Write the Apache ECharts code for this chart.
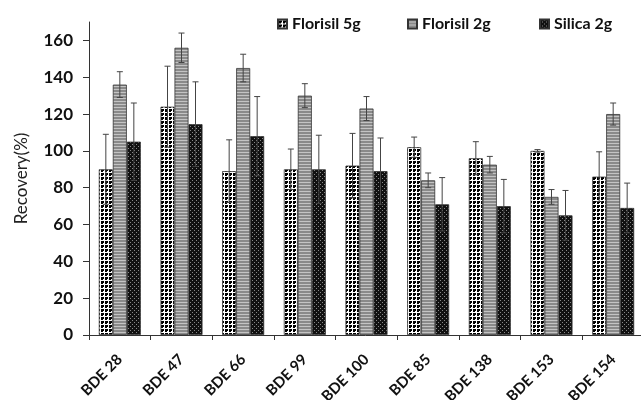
<!DOCTYPE html>
<html>
<head>
<meta charset="utf-8">
<script src="https://cdn.jsdelivr.net/npm/echarts@6/dist/echarts.min.js"></script>
<style>html,body{margin:0;padding:0;background:#fff;}#c{width:641px;height:400px;}</style>
</head>
<body>
<div id="c"></div>
<script>
const categories = ['BDE 28','BDE 47','BDE 66','BDE 99','BDE 100','BDE 85','BDE 138','BDE 153','BDE 154'];
const seriesNames = ['Florisil 5g','Florisil 2g','Silica 2g'];
const florisil5 = [90,124,89,90,92,102,96,100,86];
const florisil5Err = [19,22,17,11,17.5,5.5,9,0.7,13.5];
const florisil2 = [136,156,145,130,123,84,92.5,75,120];
const florisil2Err = [7,8,7.5,6.5,6.5,4,4.5,4,6];
const silica2 = [105,114.5,108,90,89,71,70,65,69];
const silica2Err = [21,23,21.5,18.5,18,14.5,14.5,13.5,13.5];
const yTicks = [0,20,40,60,80,100,120,140,160];

function pattern(w,h,draw){
  const c=document.createElement('canvas');c.width=w;c.height=h;
  const g=c.getContext('2d');draw(g);return {image:c,repeat:'repeat'};
}
const patF5 = pattern(4,4,g=>{g.fillStyle='#fff';g.fillRect(0,0,4,4);g.fillStyle='#000';
  g.fillRect(1,0,2,4);g.fillRect(0,1,4,2);g.fillStyle='#fff';g.fillRect(0,0,1,4);g.fillRect(0,0,4,1);});
const patF2 = pattern(3,3,g=>{g.fillStyle='#8a8a8a';g.fillRect(0,0,3,3);g.fillStyle='#c4c4c4';g.fillRect(0,2,3,1);});
const patSi = pattern(4,4,g=>{g.fillStyle='#111';g.fillRect(0,0,4,4);g.fillStyle='#888';g.fillRect(0,0,1,1);g.fillRect(2,2,1,1);});
const pats=[patF5,patF2,patSi];
const vals=[florisil5,florisil2,silica2];
const errs=[florisil5Err,florisil2Err,silica2Err];
const barW=14;

const chart=echarts.init(document.getElementById('c'),null,{renderer:'canvas'});
const series=[];
vals.forEach((v,i)=>{
  series.push({name:seriesNames[i],type:'bar',data:v,barWidth:barW,barGap:'0%',
    itemStyle:{color:pats[i],borderColor:'#333',borderWidth:0.8}});
});
vals.forEach((v,i)=>{
  series.push({type:'custom',name:'err'+i,z:10,
    data:v.map((x,k)=>[k,x,errs[i][k]]),
    encode:{x:0,y:1},
    renderItem:(params,api)=>{
      const c=api.value(0),y=api.value(1),e=api.value(2);
      const hi=api.coord([c,y+e]),lo=api.coord([c,y-e]);
      const x=hi[0]+(i-1)*barW;const cw=3;
      const st={stroke:'#444',lineWidth:1};
      return {type:'group',children:[
        {type:'line',shape:{x1:x,y1:hi[1],x2:x,y2:lo[1]},style:st},
        {type:'line',shape:{x1:x-cw,y1:hi[1],x2:x+cw,y2:hi[1]},style:st},
        {type:'line',shape:{x1:x-cw,y1:lo[1],x2:x+cw,y2:lo[1]},style:st}
      ]};
    }});
});
const legendBase={itemWidth:9,itemHeight:9,icon:'rect',textStyle:{fontFamily:'Lato',fontWeight:'bold',fontSize:16,color:'#111'},top:11};
chart.setOption({
  animation:false,
  textStyle:{fontFamily:'Lato'},
  legend:[
    Object.assign({},legendBase,{data:[seriesNames[0]],left:272}),
    Object.assign({},legendBase,{data:[seriesNames[1]],left:402}),
    Object.assign({},legendBase,{data:[seriesNames[2]],left:534})
  ],
  grid:{left:89,right:-3,top:22,bottom:65,containLabel:false,outerBoundsMode:'none'},
  xAxis:{type:'category',data:categories,
    axisLine:{lineStyle:{color:'#333',width:1}},
    axisTick:{show:true,length:5,lineStyle:{color:'#333'}},
    axisLabel:{rotate:45,interval:0,margin:22,fontFamily:'Lato',fontWeight:'bold',fontSize:15,color:'#111'}},
  yAxis:{type:'value',min:0,max:170,
    name:'Recovery(%)',nameLocation:'middle',nameGap:59,nameTextStyle:{fontFamily:'Lato',fontSize:17,color:'#222'},
    axisLine:{show:true,lineStyle:{color:'#333',width:1}},
    axisTick:{show:true,length:6,lineStyle:{color:'#333'},customValues:yTicks},
    axisLabel:{customValues:yTicks,margin:16,fontFamily:'Lato',fontWeight:'bold',fontSize:17,color:'#111'},
    splitLine:{show:false}},
  series:series
});
</script>
</body>
</html>
